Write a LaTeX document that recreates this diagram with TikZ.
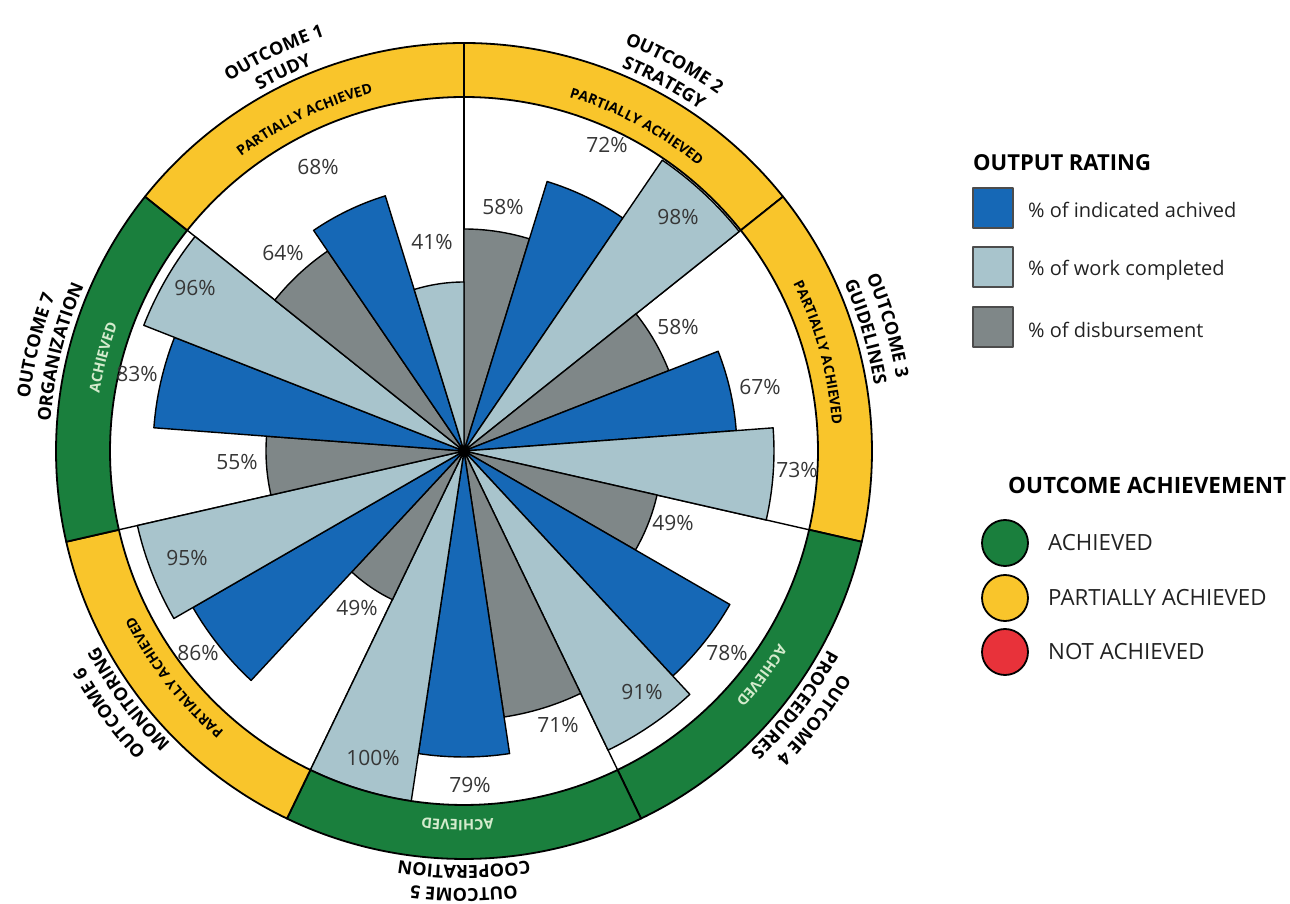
\documentclass[tikz,border=0pt]{standalone}
\usepackage{fontspec}
\setmainfont{Open Sans}
\usetikzlibrary{decorations.text}

\definecolor{bandyellow}{HTML}{F9C52B}
\definecolor{bandgreen}{HTML}{1A7F3D}
\definecolor{barblue}{HTML}{1668B6}
\definecolor{barlight}{HTML}{A8C4CC}
\definecolor{bargrey}{HTML}{7F8788}
\definecolor{notred}{HTML}{E8323A}
\definecolor{pcttext}{HTML}{363636}
\definecolor{achtext}{HTML}{D4EBCD}
\definecolor{legtext}{HTML}{222222}

\newcommand\pctfont{\fontsize{21}{21}\selectfont}
\newcommand\bandfont{\bfseries\fontsize{14}{14}\selectfont}
\newcommand\achfont{\bfseries\fontsize{14.5}{14.5}\selectfont\color{achtext}}
\newcommand\lblfont{\bfseries\fontsize{18}{18}\selectfont}

% text set along a clockwise arc centred on angle #1, baseline radius #2
\newcommand\arclabel[4]{%
  \path[decorate, decoration={text along path, text={|#3|#4}, text align=center}]
    ({#1+45}:#2pt) arc[start angle={#1+45}, end angle={#1-45}, radius=#2pt];
}

\begin{document}
\begin{tikzpicture}[x=1pt, y=1pt, line join=round,
  barstyle/.style={draw=black, line width=1.4pt},
  bandstyle/.style={draw=black, line width=1.8pt},
  pctlabel/.style={font=\pctfont, text=pcttext, inner sep=0pt},
  legsq/.style={draw=black!70, line width=1.5pt, minimum size=40pt, inner sep=0pt},
  legdot/.style={circle, draw=black, line width=1.8pt, minimum size=46pt, inner sep=0pt},
  legtitle/.style={font=\bfseries\fontsize{22}{22}\selectfont, anchor=west, inner sep=0pt},
  legitem/.style={font=\fontsize{20}{20}\selectfont, text=legtext, anchor=west, inner sep=0pt},
  achitem/.style={font=\fontsize{22.3}{22.3}\selectfont, text=legtext, anchor=west, inner sep=0pt}]
\useasboundingbox (-464,-453) rectangle (826,451);

\def\Rin{354}
\def\Rout{408}
\def\sw{17.142857}

% spokes between the seven sectors
\foreach \k in {0,...,6}{
  \draw[line width=1.4pt] (0,0) -- ({90-\k*360/7}:\Rout pt);
}

% bars: disbursement, indicators achieved, work completed
\foreach \k/\g/\b/\l in {0/222/282/352, 1/220/273/310, 2/198/307/332,
                         3/269/306/354, 4/165/313/335, 5/198/311/344, 6/242/267/169}{
  \pgfmathsetmacro\a{90-\k*360/7}
  \pgfmathsetmacro\aa{\a-\sw}
  \pgfmathsetmacro\ab{\a-2*\sw}
  \pgfmathsetmacro\ac{\a-3*\sw}
  \filldraw[barstyle, fill=bargrey] (0,0) -- (\a:\g pt) arc[start angle=\a, end angle=\aa, radius=\g pt] -- cycle;
  \filldraw[barstyle, fill=barblue] (0,0) -- (\aa:\b pt) arc[start angle=\aa, end angle=\ab, radius=\b pt] -- cycle;
  \filldraw[barstyle, fill=barlight] (0,0) -- (\ab:\l pt) arc[start angle=\ab, end angle=\ac, radius=\l pt] -- cycle;
}

% outer ring coloured by outcome achievement
\foreach \k/\c in {0/bandyellow, 1/bandyellow, 2/bandgreen, 3/bandgreen,
                   4/bandyellow, 5/bandgreen, 6/bandyellow}{
  \pgfmathsetmacro\a{90-\k*360/7}
  \pgfmathsetmacro\ac{\a-3*\sw}
  \filldraw[bandstyle, fill=\c] (\a:\Rin pt) arc[start angle=\a, end angle=\ac, radius=\Rin pt]
    -- (\ac:\Rout pt) arc[start angle=\ac, end angle=\a, radius=\Rout pt] -- cycle;
}

\fill (0,0) circle (5pt);

% ring texts
\arclabel{115.7}{369}{\bandfont}{PARTIALLY ACHIEVED}
\arclabel{62}{369}{\bandfont}{PARTIALLY ACHIEVED}
\arclabel{15.5}{369}{\bandfont}{PARTIALLY ACHIEVED}
\arclabel{-37}{369}{\achfont}{ACHIEVED}
\arclabel{-91}{369}{\achfont}{ACHIEVED}
\arclabel{-142}{369}{\bandfont}{PARTIALLY ACHIEVED}
\arclabel{165.5}{369}{\achfont}{ACHIEVED}

% outcome names outside the ring
\arclabel{115.5}{437.5}{\lblfont}{OUTCOME 1}
\arclabel{115.5}{414.5}{\lblfont}{STUDY}
\arclabel{61.5}{437.5}{\lblfont}{OUTCOME 2}
\arclabel{61.5}{414.5}{\lblfont}{STRATEGY}
\arclabel{16.5}{438.5}{\lblfont}{OUTCOME 3}
\arclabel{16.5}{415.5}{\lblfont}{GUIDELINES}
\arclabel{-37.5}{437.5}{\lblfont}{OUTCOME 4}
\arclabel{-37.5}{414.5}{\lblfont}{PROCEEDURES}
\arclabel{-90}{437.5}{\lblfont}{OUTCOME 5}
\arclabel{-90}{414.5}{\lblfont}{COOPERATION}
\arclabel{-143.5}{437.5}{\lblfont}{OUTCOME 6}
\arclabel{-143.5}{414.5}{\lblfont}{MONITORING}
\arclabel{166.2}{437.5}{\lblfont}{OUTCOME 7}
\arclabel{166.2}{414.5}{\lblfont}{ORGANIZATION}

% percentage values
\foreach \x/\y/\v [count=\i] in {-146/284/68, -181/198/64, -32/209/41, -269/163/96, -327/77/83,
    39/244/58, 143/306/72, 214/234/98, 214/124/58, 296/64/67, 333/-19/73,
    209/-72/49, 263/-202/78, 178/-241/91, 94/-274/71, 6/-334/79, -91/-307/100,
    -107/-157/49, -266/-202/86, -277/-107/95, -227/-11/55}{
  \node[pctlabel] (pct\i) at (\x,\y) {\v\%};
}

% legend: output rating
\node[legtitle] (ratingtitle) at (509,288) {OUTPUT RATING};
\node[legsq, fill=barblue] (sqblue) at (529,243) {};
\node[legsq, fill=barlight] (sqlight) at (529,184) {};
\node[legsq, fill=bargrey] (sqgrey) at (529,124) {};
\node[legitem] (txtblue) at (564,241) {\% of indicated achived};
\node[legitem] (txtlight) at (564,181) {\% of work completed};
\node[legitem] (txtgrey) at (564,121) {\% of disbursement};

% legend: outcome achievement
\node[legtitle, font=\bfseries\fontsize{22.5}{22.5}\selectfont] (achtitle) at (544,-34) {OUTCOME ACHIEVEMENT};
\node[legdot, fill=bandgreen] (dotgreen) at (541,-92) {};
\node[legdot, fill=bandyellow] (dotyellow) at (541,-147) {};
\node[legdot, fill=notred] (dotred) at (541,-201) {};
\node[achitem] (txtach) at (584,-92) {ACHIEVED};
\node[achitem] (txtpart) at (584,-147) {PARTIALLY ACHIEVED};
\node[achitem] (txtnot) at (584,-201) {NOT ACHIEVED};
\end{tikzpicture}
\end{document}
